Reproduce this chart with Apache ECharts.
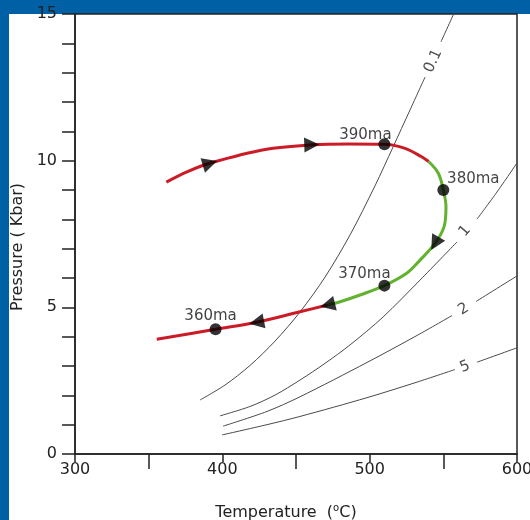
<!DOCTYPE html>
<html>
<head>
<meta charset="utf-8">
<script src="https://cdn.jsdelivr.net/npm/echarts@6/dist/echarts.min.js"></script>
<style>
html,body{margin:0;padding:0;background:#0060A6;overflow:hidden;}
#chart{width:530px;height:520px;}
</style>
</head>
<body>
<div id="chart"></div>
<script>
// ---- tick labels ----
var xTickLabels = [300, 400, 500, 600];
var yTickLabels = [0, 5, 10, 15];

// ---- P-T path (Temperature °C, Pressure kbar) ----
var pathRed1 = [[362,9.27],[376,9.62],[392,9.92],[429,10.38],[461,10.54],[486,10.57],[510,10.56],[524,10.42],[535,10.14],[540,9.97]];
var pathGreen = [[540,9.97],[546.6,9.57],[550,9.0],[551.8,8.43],[550.5,7.75],[544.3,7.18],[534.2,6.61],[525.1,6.16],[510,5.74],[493.5,5.42],[480,5.19],[471.5,5.08]];
var pathRed2 = [[471.5,5.08],[452.7,4.85],[423.3,4.49],[395.4,4.25],[355.5,3.91]];

// ---- ages on the path ----
var ageNames = ['390ma', '380ma', '370ma', '360ma'];
var agePoints = [[510,10.56],[550,9.0],[510,5.74],[395.4,4.25]];

// ---- direction arrows on the path ----
var arrowPoints = [[391.6,9.91],[460.7,10.54],[544.3,7.18],[471.5,5.08],[423.3,4.49]];
var arrowHeadings = [-73, -88, 150, 104, 101];

// ---- isopleth curves (null = gap for label) ----
var isoNames = ['0.1', '1', '2', '5'];
var iso01 = [[384.8,1.84],[401.8,2.35],[418.8,3.02],[435.8,3.85],[452.7,4.84],[469.7,6.03],[486.7,7.47],[503.6,9.14],[515.8,10.46],[527.4,11.73],[537.6,12.85],null,[548.4,14.05],[557.9,15.1]];
var iso1 = [[398.4,1.30],[418.8,1.62],[435.8,2.01],[452.7,2.52],[469.7,3.09],[486.7,3.72],[509.1,4.67],[534.2,5.93],[559.3,7.23],null,[572.9,8.01],[586.4,8.93],[600,9.92]];
var iso2 = [[400.5,0.95],[430.3,1.45],[452.7,1.95],[498.2,3.12],[532.1,4.04],[555.9,4.72],null,[572.2,5.20],[600,6.07]];
var iso5 = [[399.8,0.65],[430.3,1.00],[452.7,1.28],[498.2,1.92],[532.1,2.45],[557.9,2.88],null,[572.9,3.13],[600,3.62]];
var isoLabelPoints = [[543.2,13.4],[564.7,7.6],[563.7,4.94],[564.7,2.97]];

var FONT = 'DejaVu Sans';
var INK = '#222';

function gapData(arr) {
  return arr.map(function (p) { return p === null ? ['-', '-'] : p; });
}

var isoSets = [iso01, iso1, iso2, iso5];
var isoRot = [65, 49, 31, 22];
var ageOffsets = [[-19,9],[30,8],[-20,7],[-5,5]];

var series = [];
isoSets.forEach(function (arr, i) {
  series.push({
    type: 'line', name: 'iso' + isoNames[i], data: gapData(arr),
    symbol: 'none', smooth: 0.3, connectNulls: false,
    lineStyle: { color: '#4a4a4a', width: 1 }, z: 2, silent: true
  });
});
series.push({
  type: 'scatter', data: isoLabelPoints.map(function (p, i) {
    return { value: p, name: isoNames[i], label: { rotate: isoRot[i] } };
  }),
  symbolSize: 0, z: 3, silent: true,
  label: { show: true, position: 'inside', formatter: '{b}', color: INK, fontSize: 15, fontFamily: FONT }
});
[[pathRed1, '#CB1B26'], [pathGreen, '#62B22F'], [pathRed2, '#CB1B26']].forEach(function (s) {
  series.push({
    type: 'line', data: s[0], symbol: 'none', smooth: 0.35,
    lineStyle: { color: s[1], width: 3 }, z: 4, silent: true
  });
});
series.push({
  type: 'scatter', data: arrowPoints.map(function (p, i) {
    return { value: p, symbolRotate: arrowHeadings[i] };
  }),
  symbol: 'triangle', symbolSize: [15, 15], itemStyle: { color: '#000' }, z: 6, silent: true
});
series.push({
  type: 'scatter', data: agePoints.map(function (p, i) {
    return { value: p, name: ageNames[i], label: { offset: ageOffsets[i] } };
  }),
  symbolSize: 12, itemStyle: { color: '#000' }, z: 7, silent: true,
  label: { show: true, position: 'top', formatter: '{b}', color: '#111', fontSize: 15, fontFamily: FONT }
});

var chart = echarts.init(document.getElementById('chart'), null, { renderer: 'canvas' });
chart.setOption({
  animation: false,
  backgroundColor: '#0060A6',
  graphic: [{ type: 'rect', left: 9, top: 14, shape: { width: 521, height: 506 }, style: { fill: '#ffffff' }, z: -10, silent: true }],
  grid: { left: 75, right: 13, top: 14, bottom: 66, containLabel: false, outerBoundsMode: 'none',
    show: true, borderColor: INK, borderWidth: 1.5, backgroundColor: 'transparent' },
  xAxis: {
    type: 'value', min: xTickLabels[0], max: xTickLabels[xTickLabels.length - 1], interval: xTickLabels[1] - xTickLabels[0],
    axisLine: { lineStyle: { color: INK, width: 1.5 } },
    axisTick: { length: 8, lineStyle: { color: INK, width: 1.5 } },
    minorTick: { show: true, splitNumber: 2, length: 15, lineStyle: { color: INK, width: 1.5 } },
    splitLine: { show: false },
    axisLabel: { color: INK, fontSize: 16, fontFamily: FONT, margin: 8 },
    name: '{t|Temperature  (}{s|o}{t|C)}', nameLocation: 'middle', nameGap: 49,
    nameTextStyle: { color: INK, fontSize: 16, fontFamily: FONT, padding: [0, 20, 0, 0],
      rich: {
        t: { color: INK, fontSize: 16, fontFamily: FONT, lineHeight: 20 },
        s: { color: INK, fontSize: 10, fontFamily: FONT, lineHeight: 10, verticalAlign: 'top' }
      } }
  },
  yAxis: {
    type: 'value', min: yTickLabels[0], max: yTickLabels[yTickLabels.length - 1], interval: yTickLabels[1] - yTickLabels[0],
    axisLine: { show: true, lineStyle: { color: INK, width: 1.5 } },
    axisTick: { show: true, length: 13, lineStyle: { color: INK, width: 1.5 } },
    minorTick: { show: true, splitNumber: 5, length: 13, lineStyle: { color: INK, width: 1.5 } },
    splitLine: { show: false },
    axisLabel: { color: INK, fontSize: 16, fontFamily: FONT, margin: 18 },
    name: 'Pressure ( Kbar)', nameLocation: 'middle', nameGap: 41,
    nameTextStyle: { color: INK, fontSize: 16, fontFamily: FONT, padding: [0, 26, 0, 0] }
  },
  series: series
});
</script>
</body>
</html>
